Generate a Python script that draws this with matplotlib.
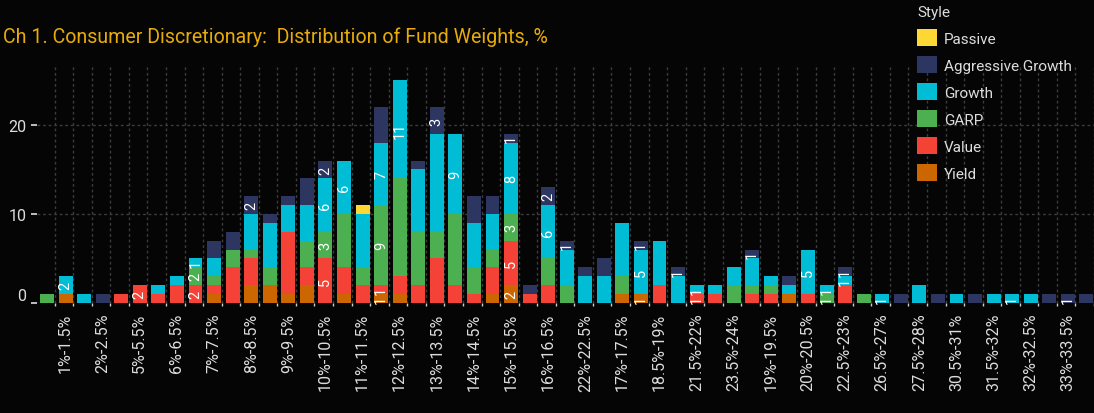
import matplotlib
matplotlib.use("Agg")
import matplotlib.pyplot as plt
import matplotlib.patches as mpatches
import numpy as np

plt.rcParams['font.family'] = ['Roboto', 'DejaVu Sans']

categories = [
    "0.5%-1%", "1%-1.5%", "1.5%-2%", "2%-2.5%", "4.5%-5%", "5%-5.5%", "5.5%-6%", "6%-6.5%",
    "6.5%-7%", "7%-7.5%", "7.5%-8%", "8%-8.5%", "8.5%-9%", "9%-9.5%", "9.5%-10%", "10%-10.5%",
    "10.5%-11%", "11%-11.5%", "11.5%-12%", "12%-12.5%", "12.5%-13%", "13%-13.5%", "13.5%-14%",
    "14%-14.5%", "14.5%-15%", "15%-15.5%", "15.5%-16%", "16%-16.5%", "16.5%-17%", "22%-22.5%",
    "24%-24.5%", "17%-17.5%", "17.5%-18%", "18.5%-19%", "18%-18.5%", "21.5%-22%", "21%-21.5%",
    "23.5%-24%", "25%-25.5%", "19%-19.5%", "19.5%-20%", "20%-20.5%", "20.5%-21%", "22.5%-23%",
    "23%-23.5%", "26.5%-27%", "27%-27.5%", "27.5%-28%", "29%-29.5%", "30.5%-31%", "31%-31.5%",
    "31.5%-32%", "25.5%-26%", "32%-32.5%", "28.5%-29%", "33%-33.5%", "34%-34.5%",
]

yield_vals = [0, 1, 0, 0, 0, 0, 0, 0, 0, 1,
              0, 2, 2, 1, 2, 0, 1, 0, 1, 1,
              0, 0, 0, 0, 1, 2, 0, 0, 0, 0,
              0, 1, 1, 0, 0, 0, 0, 0, 0, 0,
              1, 0, 0, 0, 0, 0, 0, 0, 0, 0,
              0, 0, 0, 0, 0, 0, 0]
value_vals = [0, 0, 0, 0, 1, 2, 1, 2, 2, 1,
              4, 3, 0, 7, 2, 5, 3, 2, 1, 2,
              2, 5, 2, 1, 3, 5, 1, 2, 0, 0,
              0, 0, 0, 2, 0, 1, 1, 0, 1, 1,
              0, 1, 0, 2, 0, 0, 0, 0, 0, 0,
              0, 0, 0, 0, 0, 0, 0]
garp_vals = [1, 0, 0, 0, 0, 0, 0, 0, 2, 1,
             2, 1, 2, 0, 3, 3, 6, 2, 9, 11,
             6, 3, 8, 3, 2, 3, 0, 3, 2, 0,
             0, 2, 0, 0, 0, 0, 0, 2, 1, 1,
             0, 0, 1, 0, 1, 0, 0, 0, 0, 0,
             0, 0, 0, 0, 0, 0, 0]
growth_vals = [0, 2, 1, 0, 0, 0, 1, 1, 1, 2,
               0, 4, 5, 3, 4, 6, 6, 6, 7, 11,
               7, 11, 9, 5, 4, 8, 0, 6, 4, 3,
               3, 6, 5, 5, 3, 1, 1, 2, 3, 1,
               1, 5, 1, 1, 0, 1, 0, 2, 0, 1,
               0, 1, 1, 1, 0, 0, 0]
aggressive_vals = [0, 0, 0, 1, 0, 0, 0, 0, 0, 2,
                   2, 2, 1, 1, 3, 2, 0, 0, 4, 0,
                   1, 3, 0, 3, 2, 1, 1, 2, 1, 1,
                   2, 0, 1, 0, 1, 0, 0, 0, 1, 0,
                   1, 0, 0, 1, 0, 0, 1, 0, 1, 0,
                   1, 0, 0, 0, 1, 1, 1]
passive_vals = [0] * 17 + [1] + [0] * 39

series_names = ["Yield", "Value", "GARP", "Growth", "Aggressive Growth", "Passive"]
series_vals = [yield_vals, value_vals, garp_vals, growth_vals, aggressive_vals, passive_vals]
series_colors = ["#CC6600", "#F44336", "#4CAF50", "#00BCD4", "#2D3561", "#FDD835"]

# segments that carry a value label: (bar number, style)
labeled = [(2, "Growth"), (6, "Value"), (9, "Value"), (9, "GARP"), (9, "Growth"),
           (12, "Aggressive Growth"), (16, "Value"), (16, "GARP"), (16, "Growth"),
           (16, "Aggressive Growth"), (17, "Growth"), (19, "Yield"), (19, "Value"),
           (19, "GARP"), (19, "Growth"), (20, "Growth"), (22, "Aggressive Growth"),
           (23, "Growth"), (26, "Yield"), (26, "Value"), (26, "GARP"), (26, "Growth"),
           (26, "Aggressive Growth"), (28, "Growth"), (28, "Aggressive Growth"),
           (29, "Aggressive Growth"), (33, "Yield"), (33, "Growth"),
           (33, "Aggressive Growth"), (35, "Aggressive Growth"), (36, "Value"),
           (36, "Growth"), (39, "Aggressive Growth"), (42, "Growth"), (43, "GARP"),
           (43, "Growth"), (44, "Growth"), (44, "Aggressive Growth"), (46, "Growth"),
           (53, "Growth"), (56, "Aggressive Growth")]

title = "Ch 1. Consumer Discretionary:  Distribution of Fund Weights, %"

BG = "#050505"
W, H = 1094, 414
fig = plt.figure(figsize=(W / 100, H / 100), dpi=100, facecolor=BG)
ax = fig.add_axes([37 / W, 110 / H, 1 - 37 / W, 239 / H], facecolor=BG)

x = np.arange(len(categories))
bottom = np.zeros(len(categories))
seg_info = {}
for name, vals, col in zip(series_names, series_vals, series_colors):
    v = np.array(vals, dtype=float)
    ax.bar(x, v, bottom=bottom, width=0.75, color=col, zorder=3, linewidth=0)
    seg_info[name] = (bottom.copy(), v)
    bottom = bottom + v

for bar_no, name in labeled:
    b, v = seg_info[name]
    i = bar_no - 1
    ax.text(x[i], b[i] + v[i] / 2, str(int(v[i])), rotation=90, ha="center",
            va="center", color="white", fontsize=10.5, zorder=5)

ax.set_xlim(-0.54, len(categories) - 0.71)
ax.set_ylim(0, 26.85)

ax.set_xticks(x)
ax.set_xticklabels([c if i % 2 == 1 else "" for i, c in enumerate(categories)],
                   rotation=90, fontsize=11.5, color="#dddddd")
ax.tick_params(axis="x", which="major", length=0, pad=7)
ax.set_xticks(x + 0.41, minor=True)
ax.tick_params(axis="x", which="minor", length=2.5, width=1, color="#cccccc")

ax.set_yticks([0, 10, 20])
ax.tick_params(axis="y", length=4.5, width=1.2, color="#dddddd", labelcolor="#dddddd",
               labelsize=11.5, pad=3)
ax.yaxis.get_major_ticks()[0].label1.set_verticalalignment("bottom")

ax.grid(True, which="minor", axis="x", color="#3c3c3c", linestyle=(0, (2, 2)), linewidth=1, zorder=0)
ax.grid(True, which="major", axis="y", color="#3c3c3c", linestyle=(0, (2, 2)), linewidth=1, zorder=0)
ax.grid(False, which="major", axis="x")
for s in ax.spines.values():
    s.set_visible(False)

fig.text(3 / W, 1 - 37 / H, title, color="#E8AC0A", fontsize=14.1, ha="left", va="center")

handles = [mpatches.Patch(facecolor=c, edgecolor="none", label=n)
           for n, c in zip(series_names[::-1], series_colors[::-1])]
leg = fig.legend(handles=handles, loc="upper left", bbox_to_anchor=(905 / W, 1.0156),
                 frameon=False, title="Style", fontsize=11, title_fontsize=11,
                 handlelength=1.3, handleheight=1.3, labelspacing=0.68,
                 handletextpad=0.45, borderpad=0.3, alignment="left", labelcolor="#dddddd")
leg.get_title().set_color("#dddddd")

fig.savefig("out.png", dpi=100, facecolor=BG)
